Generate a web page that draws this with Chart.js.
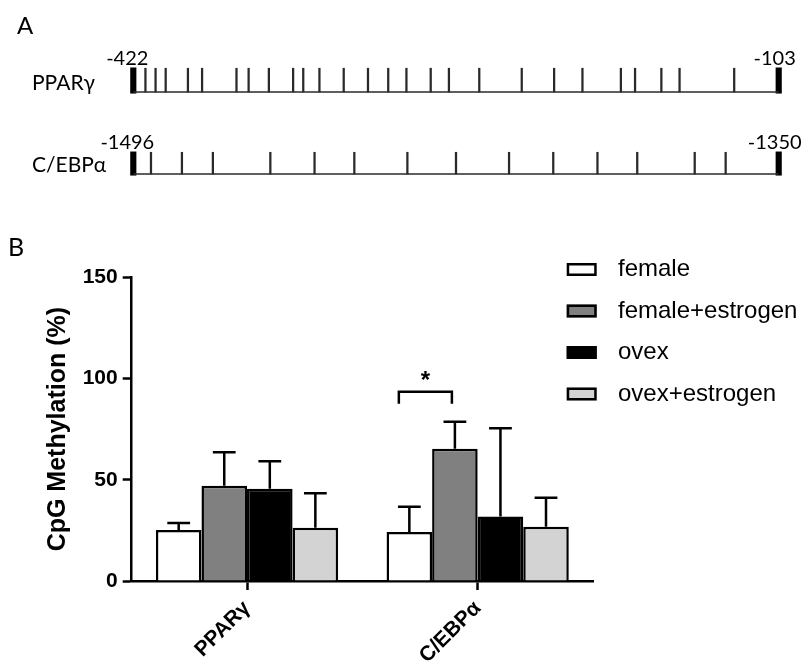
<!DOCTYPE html>
<html><head><meta charset="utf-8">
<script src="https://cdn.jsdelivr.net/npm/chart.js@4.4.1/dist/chart.umd.min.js"></script>
<style>
html,body{margin:0;padding:0;background:#fff;}
#wrap{position:relative;width:809px;height:667px;overflow:hidden;}
canvas{position:absolute;left:0;top:0;}
</style></head><body>
<div id="wrap">
<canvas id="chartB" width="809" height="667"></canvas>
<canvas id="chartA" width="809" height="200"></canvas>
</div>
<script>
// ---------- Panel A data ----------
const genes = ['PPARγ', 'C/EBPα'];
const regionStart = [-422, -1496];
const regionEnd = [-103, -1350];
const cpgPPARG = [-416, -411, -406, -395, -388, -371, -365, -355, -343, -338, -330, -318, -306, -296, -287, -275, -266, -251, -230, -214, -200, -181, -174, -161, -152, -125];
const cpgCEBPA = [-1492, -1485, -1478, -1465, -1455, -1446, -1434, -1423, -1411, -1401, -1391, -1382, -1369, -1362];

// ---------- Panel B data ----------
const categories = ['PPARγ', 'C/EBPα'];
const seriesNames = ['female', 'female+estrogen', 'ovex', 'ovex+estrogen'];
const female = [25.2, 24.2];
const femaleEstrogen = [47.1, 65.3];
const ovex = [45.6, 31.8];
const ovexEstrogen = [26.3, 26.8];
const femaleErr = [3.4, 12.5];
const femaleEstrogenErr = [16.5, 13.4];
const ovexErr = [13.5, 43.6];
const ovexEstrogenErr = [17.0, 14.3];
const yTicks = [0, 50, 100, 150];
const significance = [{ category: 1, from: 0, to: 1, level: 93.5, label: '*' }];

const seriesValues = [female, femaleEstrogen, ovex, ovexEstrogen];
const seriesErr = [femaleErr, femaleEstrogenErr, ovexErr, ovexEstrogenErr];
const barColors = ['#ffffff', '#808080', '#000000', '#d3d3d3'];

// ---------- Panel A chart ----------
const cpgSites = [cpgPPARG, cpgCEBPA];
const axisIds = ['xP', 'xC'];
const tickH = [0.29, 0.265];
const dsA = [];
genes.forEach((g, i) => {
  const row = genes.length - 1 - i;
  dsA.push({ type: 'line', xAxisID: axisIds[i], clip: false,
    data: [{ x: regionStart[i], y: row }, { x: regionEnd[i], y: row }],
    borderColor: '#2a2a2a', borderWidth: 1.5, pointRadius: 0 });
  dsA.push({ type: 'bar', xAxisID: axisIds[i], grouped: false, clip: false,
    barThickness: 100, maxBarThickness: 1.6, backgroundColor: '#2a2a2a', borderWidth: 0,
    data: cpgSites[i].map(x => ({ x: x, y: [row, row + tickH[i]] })) });
  dsA.push({ type: 'bar', xAxisID: axisIds[i], grouped: false, clip: false,
    barThickness: 100, maxBarThickness: 5.5, backgroundColor: '#000', borderWidth: 0,
    data: [regionStart[i], regionEnd[i]].map(x => ({ x: x, y: [row - 0.015, row + tickH[i] + 0.005] })) });
});

const textA = {
  id: 'textA',
  afterDraw(chart) {
    const ctx = chart.ctx, ys = chart.scales.y;
    ctx.save();
    ctx.fillStyle = '#000';
    ctx.textBaseline = 'alphabetic';
    ctx.font = '24px Lato';
    ctx.textAlign = 'left';
    ctx.fillText('A', 17, 34);
    genes.forEach((g, i) => {
      const row = genes.length - 1 - i;
      const xs = chart.scales[axisIds[i]];
      const py = ys.getPixelForValue(row);
      const top = ys.getPixelForValue(row + tickH[i]);
      ctx.font = '21px Lato';
      ctx.textAlign = 'left';
      ctx.fillText(g, 32, py - 2);
      ctx.font = '20px Lato';
      ctx.textAlign = 'center';
      ctx.fillText(String(regionStart[i]), xs.getPixelForValue(regionStart[i]) - 6, top - 3);
      ctx.fillText(String(regionEnd[i]), xs.getPixelForValue(regionEnd[i]) - 4, top - 3);
    });
    ctx.restore();
  }
};

new Chart(document.getElementById('chartA'), {
  type: 'bar',
  data: { datasets: dsA },
  options: {
    responsive: false, animation: false, devicePixelRatio: 1,
    layout: { padding: { left: 133.3, right: 30.3, top: 10, bottom: 1.4 } },
    plugins: { legend: { display: false }, tooltip: { enabled: false } },
    scales: {
      xP: { type: 'linear', axis: 'x', position: 'bottom', display: false, min: regionStart[0], max: regionEnd[0], offset: false },
      xC: { type: 'linear', axis: 'x', position: 'bottom', display: false, min: regionStart[1], max: regionEnd[1], offset: false },
      y: { type: 'linear', display: false, min: -0.3, max: 2 }
    }
  },
  plugins: [textA]
});

// ---------- Panel B chart ----------
const boldFont = { family: 'Liberation Sans', size: 21, weight: 'bold' };

const extrasB = {
  id: 'extrasB',
  afterDatasetsDraw(chart) {
    const ctx = chart.ctx, ys = chart.scales.y;
    ctx.save();
    ctx.strokeStyle = '#000';
    ctx.lineWidth = 2.5;
    ctx.lineCap = 'butt';
    // error bars (upper only)
    chart.data.datasets.forEach((ds, k) => {
      const meta = chart.getDatasetMeta(k);
      meta.data.forEach((bar, i) => {
        const top = ys.getPixelForValue(seriesValues[k][i] + seriesErr[k][i]);
        const half = bar.width / 4;
        ctx.beginPath();
        ctx.moveTo(bar.x, bar.y);
        ctx.lineTo(bar.x, top);
        ctx.moveTo(bar.x - half, top);
        ctx.lineTo(bar.x + half, top);
        ctx.stroke();
      });
    });
    // significance bracket
    significance.forEach(s => {
      const a = chart.getDatasetMeta(s.from).data[s.category];
      const b = chart.getDatasetMeta(s.to).data[s.category];
      const x1 = a.x - 10.5, x2 = b.x - 3;
      const yTop = ys.getPixelForValue(s.level);
      const yLeg = ys.getPixelForValue(s.level - 6);
      ctx.beginPath();
      ctx.moveTo(x1, yLeg); ctx.lineTo(x1, yTop); ctx.lineTo(x2, yTop); ctx.lineTo(x2, yLeg);
      ctx.stroke();
      ctx.fillStyle = '#000';
      ctx.font = 'bold 24px "Liberation Sans"';
      ctx.textAlign = 'center';
      ctx.textBaseline = 'alphabetic';
      ctx.fillText(s.label, (x1 + x2) / 2, yTop - 4);
    });
    ctx.restore();
  },
  afterDraw(chart) {
    const ctx = chart.ctx;
    ctx.save();
    // panel label
    ctx.fillStyle = '#000';
    ctx.font = '25px Lato';
    ctx.textAlign = 'left';
    ctx.textBaseline = 'alphabetic';
    ctx.fillText('B', 8, 256);
    // legend
    const lx = chart.chartArea.right - 26.3, ly0 = 269.5, dy = 41.5;
    chart.data.datasets.forEach((ds, k) => {
      const cy = ly0 + k * dy;
      ctx.fillStyle = ds.backgroundColor;
      ctx.fillRect(lx, cy - 6.5, 30, 13);
      ctx.lineWidth = 2.5;
      ctx.strokeStyle = '#000';
      ctx.strokeRect(lx + 1.25, cy - 6.5 + 1.25, 27.5, 10.5);
      ctx.fillStyle = '#000';
      ctx.font = '24px "Liberation Sans"';
      ctx.textBaseline = 'middle';
      ctx.fillText(ds.label, lx + 51.3, cy);
    });
    ctx.restore();
  }
};

new Chart(document.getElementById('chartB'), {
  type: 'bar',
  data: {
    labels: categories,
    datasets: seriesNames.map((n, k) => ({
      label: n,
      data: seriesValues[k],
      backgroundColor: barColors[k],
      borderColor: '#000',
      borderWidth: 2.5,
      borderSkipped: 'start',
      barPercentage: 1,
      categoryPercentage: 0.79
    }))
  },
  options: {
    responsive: false, animation: false, devicePixelRatio: 1,
    layout: { padding: { left: 0, right: 216, top: 277.3, bottom: 0 } },
    plugins: { legend: { display: false }, tooltip: { enabled: false } },
    scales: {
      x: {
        type: 'category', offset: true,
        grid: { display: true, drawOnChartArea: false, drawTicks: true, tickLength: 9, tickWidth: 2.5, tickColor: '#000', offset: false },
        border: { display: true, color: '#000', width: 2.5 },
        ticks: { color: '#000', font: boldFont, maxRotation: 45, minRotation: 45, padding: 6 },
        afterFit(s) { s.height = 86; }
      },
      y: {
        min: 0, max: 150,
        afterBuildTicks(s) { s.ticks = yTicks.map(v => ({ value: v })); },
        grid: { display: true, drawOnChartArea: false, drawTicks: true, tickLength: 9, tickWidth: 2.5, tickColor: '#000' },
        border: { display: true, color: '#000', width: 2.5 },
        ticks: { color: '#000', font: boldFont, padding: 5 },
        title: { display: true, text: 'CpG Methylation (%)', color: '#000',
          font: { family: 'Liberation Sans', size: 25, weight: 'bold' }, padding: { top: 43, bottom: 0 } },
        afterFit(s) { s.width = 131.7; }
      }
    }
  },
  plugins: [extrasB]
});
</script>
</body></html>
